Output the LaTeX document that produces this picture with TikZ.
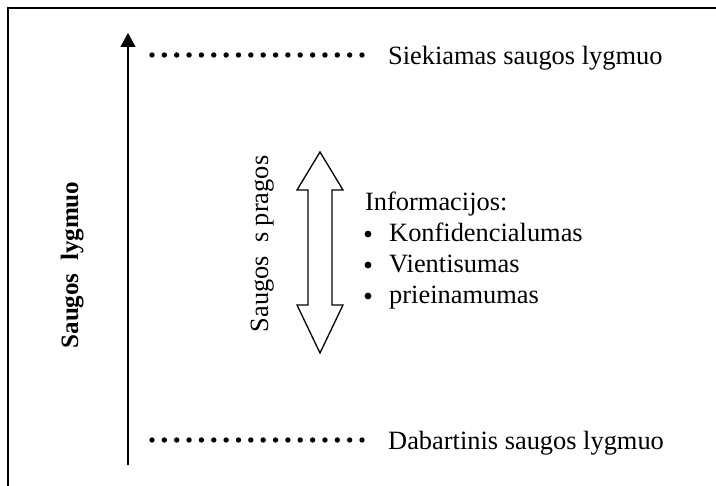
\documentclass[tikz,border=0pt]{standalone}
\usepackage{fontspec}
\setmainfont{Liberation Serif}
\usetikzlibrary{arrows.meta}
\begin{document}
\begin{tikzpicture}[x=1pt,y=-1pt,
  label/.style={inner sep=0pt,font=\fontsize{26.4}{30}\selectfont},
  boldlabel/.style={inner sep=0pt,font=\fontsize{25}{30}\selectfont\bfseries},
  frameline/.style={line width=1.8pt},
  levelarrow/.style={line width=1.5pt,-{Triangle[length=14pt,width=15pt]}},
  dotmark/.style={fill=black},
  gaparrow/.style={line width=1.3pt,line join=miter}]
\useasboundingbox (0,0) rectangle (716,486);
% open frame: top and left edges only
\draw[frameline] (716,8) -- (8,8) -- (8,486);
% level axis
\coordinate (axislow) at (128,465);
\coordinate (axishigh) at (128,33);
\draw[levelarrow] (axislow) -- (axishigh);
% dotted level markers
\foreach \i in {0,...,17}{
  \fill[dotmark] (152+\i*12.353,55) circle (2.7);
  \fill[dotmark] (152+\i*12.353,440) circle (2.7);
}
\node[label,anchor=base west] (target) at (388,65) {Siekiamas saugos lygmuo};
\node[label,anchor=base west] (current) at (388,450) {Dabartinis saugos lygmuo};
% axis title
\node[boldlabel,rotate=90,anchor=base] (axistitle) at (78,265) {Saugos\ \ lygmuo};
% gap double arrow
\draw[gaparrow] (320,152) -- (343,190) -- (332,190) -- (332,305) -- (343,305)
  -- (320,353) -- (297,305) -- (308,305) -- (308,190) -- (297,190) -- cycle;
\node[label,rotate=90,anchor=base] (gaptitle) at (268,244) {Saugos\ \ s pragos};
% list of properties
\node[label,anchor=base west] (info) at (365,211) {Informacijos:};
\node[label,anchor=base west] (conf) at (389,242) {Konfidencialumas};
\node[label,anchor=base west] (integ) at (389,273) {Vientisumas};
\node[label,anchor=base west] (avail) at (389,304) {prieinamumas};
\foreach \b in {242,273,304}{
  \fill[dotmark] (368,\b-8) circle (3.4);
}
\end{tikzpicture}
\end{document}
